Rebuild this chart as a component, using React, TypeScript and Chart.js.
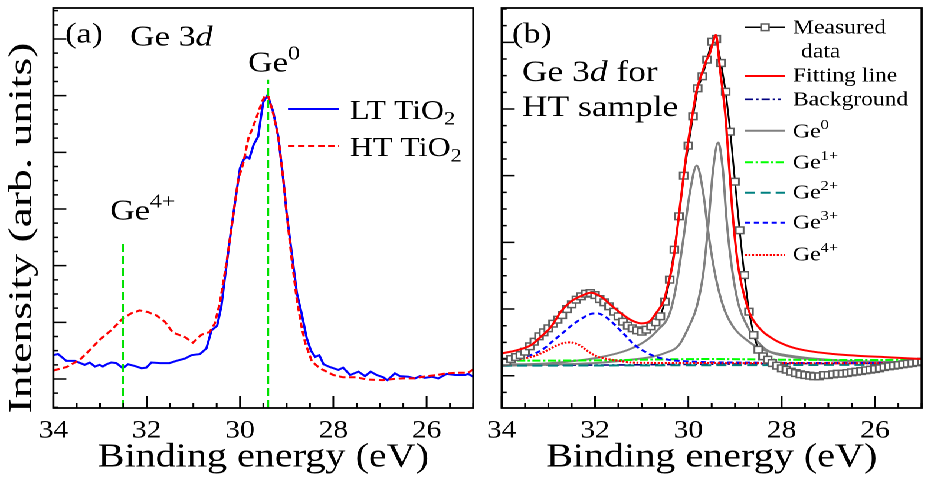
import React, { useEffect, useRef } from 'react';
import { Chart, registerables } from 'chart.js';

Chart.register(...registerables);

// ---------- global look ----------
const S = 1.18; // the figure is horizontally stretched
const FAMILY = '"Liberation Serif", "Times New Roman", serif';

// ---------- shared axis ----------
const X_MIN = 25;
const X_MAX = 34;
const X_TICKS = [34, 32, 30, 28, 26];

// ---------- panel (a) ----------
const A_Y_MIN = -0.512;
const A_Y_MAX = 6.547;
const LT_E = [34.00, 33.90, 33.72, 33.54, 33.33, 33.22, 33.11, 33.01, 32.94, 32.86, 32.76, 32.65, 32.51, 32.40, 32.26, 32.11, 32.01, 31.90, 31.71, 31.51, 31.36, 31.18, 31.04, 30.86, 30.72, 30.61, 30.49, 30.40, 30.33, 30.21, 30.11, 30.00, 29.93, 29.86, 29.80, 29.71, 29.61, 29.55, 29.50, 29.41, 29.29, 29.18, 29.07, 29.00, 28.89, 28.78, 28.68, 28.57, 28.48, 28.39, 28.30, 28.21, 28.07, 27.89, 27.79, 27.64, 27.46, 27.32, 27.20, 27.07, 26.93, 26.84, 26.68, 26.57, 26.39, 26.25, 26.14, 26.04, 25.89, 25.75, 25.57, 25.39, 25.18, 25.11, 25.00];
const LT_I = [0.42, 0.44, 0.32, 0.32, 0.25, 0.29, 0.22, 0.25, 0.22, 0.26, 0.29, 0.28, 0.19, 0.26, 0.23, 0.19, 0.20, 0.29, 0.28, 0.28, 0.32, 0.36, 0.42, 0.44, 0.54, 0.86, 0.94, 1.28, 1.75, 2.51, 3.10, 3.72, 3.86, 3.92, 3.89, 4.13, 4.28, 4.63, 4.89, 5.01, 4.72, 4.28, 3.51, 2.92, 2.22, 1.51, 1.16, 0.72, 0.50, 0.39, 0.42, 0.26, 0.21, 0.16, 0.20, 0.07, 0.13, 0.05, 0.13, 0.07, 0.03, -0.02, 0.10, 0.05, 0.04, 0.01, 0.05, 0.02, 0.04, 0.01, 0.09, 0.07, 0.07, 0.09, 0.04];
const HT_E = [34.00, 33.72, 33.43, 33.22, 33.01, 32.76, 32.51, 32.33, 32.15, 31.97, 31.79, 31.61, 31.44, 31.18, 31.01, 30.83, 30.65, 30.54, 30.43, 30.28, 30.14, 30.04, 29.93, 29.82, 29.75, 29.64, 29.53, 29.46, 29.39, 29.29, 29.18, 29.07, 29.00, 28.89, 28.78, 28.68, 28.60, 28.46, 28.29, 28.00, 27.79, 27.50, 27.28, 26.93, 26.71, 26.50, 26.29, 26.00, 25.78, 25.57, 25.36, 25.11, 25.00];
const HT_I = [0.15, 0.21, 0.34, 0.51, 0.69, 0.86, 1.07, 1.16, 1.21, 1.18, 1.12, 1.01, 0.82, 0.74, 0.64, 0.78, 0.83, 0.98, 1.35, 2.10, 2.92, 3.51, 3.81, 4.25, 4.39, 4.63, 4.89, 5.01, 4.98, 4.69, 4.28, 3.51, 2.92, 2.10, 1.39, 0.92, 0.63, 0.31, 0.19, 0.07, 0.03, 0.03, -0.01, -0.02, 0.00, 0.01, 0.01, 0.05, 0.07, 0.10, 0.11, 0.11, 0.17];
const GE0_LINE_E = 29.4;
const GE0_LINE_TOP = 5.28;
const GE4_LINE_E = 32.5;
const GE4_LINE_TOP = 2.45;

// ---------- panel (b) ----------
const B_Y_MIN = -0.4845;
const B_Y_MAX = 5.515;
const MEAS_E = [34.0, 33.9, 33.8, 33.7, 33.6, 33.5, 33.4, 33.3, 33.2, 33.1, 33.0, 32.9, 32.8, 32.7, 32.6, 32.5, 32.4, 32.3, 32.2, 32.1, 32.0, 31.9, 31.8, 31.7, 31.6, 31.5, 31.4, 31.3, 31.2, 31.1, 31.0, 30.9, 30.8, 30.7, 30.6, 30.5, 30.4, 30.3, 30.2, 30.1, 30.0, 29.9, 29.8, 29.7, 29.6, 29.5, 29.4, 29.3, 29.2, 29.1, 29.0, 28.9, 28.8, 28.7, 28.6, 28.5, 28.4, 28.3, 28.2, 28.1, 28.0, 27.9, 27.8, 27.7, 27.6, 27.5, 27.4, 27.3, 27.2, 27.1, 27.0, 26.9, 26.8, 26.7, 26.6, 26.5, 26.4, 26.3, 26.2, 26.1, 26.0, 25.9, 25.8, 25.7, 25.6, 25.5, 25.4, 25.3, 25.2, 25.1, 25.0];
const MEAS_I = [0.20, 0.21, 0.25, 0.28, 0.31, 0.36, 0.44, 0.51, 0.59, 0.65, 0.71, 0.78, 0.84, 0.91, 1.00, 1.07, 1.14, 1.19, 1.23, 1.24, 1.21, 1.15, 1.10, 1.04, 0.96, 0.89, 0.81, 0.75, 0.71, 0.68, 0.66, 0.69, 0.74, 0.80, 0.89, 1.11, 1.44, 1.89, 2.39, 3.00, 3.45, 3.89, 4.31, 4.49, 4.74, 5.01, 5.05, 4.69, 4.26, 3.66, 2.91, 2.18, 1.51, 0.96, 0.61, 0.39, 0.29, 0.24, 0.19, 0.15, 0.11, 0.09, 0.06, 0.04, 0.02, 0.01, 0.00, -0.01, -0.01, 0.01, 0.01, 0.02, 0.03, 0.03, 0.04, 0.05, 0.06, 0.07, 0.08, 0.09, 0.10, 0.11, 0.13, 0.14, 0.15, 0.16, 0.17, 0.18, 0.19, 0.20, 0.21];
const FIT_E = [34.0, 33.66, 33.37, 33.16, 32.94, 32.73, 32.52, 32.3, 32.09, 31.87, 31.66, 31.44, 31.23, 31.01, 30.84, 30.68, 30.52, 30.46, 30.33, 30.18, 30.04, 29.93, 29.82, 29.71, 29.61, 29.54, 29.48, 29.41, 29.32, 29.21, 29.12, 29.04, 28.93, 28.82, 28.68, 28.46, 28.18, 27.82, 27.46, 26.89, 26.39, 25.68, 25.0];
const FIT_I = [0.335, 0.385, 0.46, 0.585, 0.735, 0.96, 1.11, 1.195, 1.245, 1.185, 1.06, 0.935, 0.835, 0.785, 0.81, 0.95, 1.135, 1.3, 1.7, 2.535, 3.335, 3.835, 4.285, 4.535, 4.735, 4.835, 4.985, 5.11, 4.585, 3.935, 3.085, 2.335, 1.635, 1.25, 0.93, 0.7, 0.55, 0.435, 0.375, 0.325, 0.3, 0.275, 0.25];
const BG_E = [34, 32, 30, 28, 26, 25];
const BG_I = [0.16, 0.16, 0.17, 0.18, 0.185, 0.19];
const GE0A_E = [34, 33.3, 32.6, 31.9, 31.3, 30.9, 30.65, 30.4, 30.25, 30.11, 29.97, 29.82, 29.68, 29.57, 29.43, 29.25, 29.04, 28.75, 28.47, 28.11, 27.5, 27, 26, 25];
const GE0A_I = [0.17, 0.175, 0.21, 0.275, 0.385, 0.53, 0.69, 0.935, 1.385, 2.035, 2.735, 3.15, 2.735, 2.135, 1.535, 1.035, 0.735, 0.535, 0.41, 0.335, 0.27, 0.24, 0.21, 0.2];
const GE0B_E = [34, 33, 31.9, 31.16, 30.8, 30.5, 30.2, 30.0, 29.82, 29.68, 29.57, 29.47, 29.36, 29.26, 29.18, 29.07, 28.93, 28.75, 28.6, 28.32, 27.82, 27.11, 26, 25];
const GE0B_I = [0.15, 0.165, 0.195, 0.245, 0.28, 0.34, 0.46, 0.72, 1.035, 1.535, 2.285, 3.085, 3.495, 3.085, 2.335, 1.635, 1.085, 0.76, 0.585, 0.385, 0.285, 0.235, 0.21, 0.2];
const GE1_E = [34, 32, 30.5, 29.5, 28, 26, 25];
const GE1_I = [0.225, 0.23, 0.245, 0.25, 0.24, 0.235, 0.245];
const GE2_E = [34, 31, 28, 25];
const GE2_I = [0.15, 0.155, 0.16, 0.165];
const GE3_E = [34, 33.65, 33.28, 33.06, 32.92, 32.7, 32.49, 32.28, 32.1, 31.96, 31.78, 31.57, 31.36, 31.15, 30.93, 30.72, 30.43, 30.15, 29.7, 28.5, 27, 25];
const GE3_I = [0.21, 0.26, 0.335, 0.425, 0.51, 0.635, 0.76, 0.86, 0.925, 0.935, 0.885, 0.76, 0.61, 0.46, 0.36, 0.29, 0.24, 0.22, 0.205, 0.195, 0.19, 0.19];
const GE4_E = [34, 33.66, 33.3, 33.01, 32.8, 32.55, 32.34, 32.16, 31.98, 31.8, 31.51, 31.16, 30, 25];
const GE4_I = [0.225, 0.245, 0.295, 0.385, 0.46, 0.5, 0.46, 0.37, 0.295, 0.26, 0.225, 0.195, 0.19, 0.185];

// ---------- styles ----------
const C_BLUE = '#0000ff';
const C_RED = '#ff0000';
const C_GREEN_GUIDE = '#00e000';
const C_GRAY = '#808080';
const C_LIME = '#00ff00';
const C_TEAL = '#008080';
const C_NAVY = '#000080';
const C_SQUARE = '#5e5e5e';
const DASH_HT = [5.5, 3];
const DASH_GUIDE = [8, 4];
const DASH_BG = [7, 2.5, 2, 2.5];
const DASH_GE1 = [7, 2, 2, 2];
const DASH_GE2 = [8.5, 4.5];
const DASH_GE3 = [4.5, 3];
const DASH_GE4 = [1.7, 1.3];

const zip = (xs: number[], ys: number[]) => xs.map((x, i) => ({ x, y: ys[i] }));

type Part = { t: string; it?: boolean; sup?: boolean; sub?: boolean };

function drawRich(ctx: CanvasRenderingContext2D, x: number, cy: number, parts: Part[], size: number) {
  const base = cy + 0.33 * size;
  let cx = x;
  ctx.textBaseline = 'alphabetic';
  ctx.textAlign = 'left';
  ctx.fillStyle = '#000';
  for (const p of parts) {
    const fs = p.sup || p.sub ? size * 0.7 : size;
    ctx.font = `${p.it ? 'italic ' : ''}${fs}px ${FAMILY}`;
    const dy = p.sup ? -0.42 * size : p.sub ? 0.2 * size : 0;
    ctx.fillText(p.t, cx, base + dy);
    cx += ctx.measureText(p.t).width;
  }
}

function hLine(ctx: CanvasRenderingContext2D, x1: number, x2: number, y: number, color: string, dash: number[], width: number) {
  ctx.save();
  ctx.strokeStyle = color;
  ctx.lineWidth = width;
  ctx.setLineDash(dash);
  ctx.beginPath();
  ctx.moveTo(x1, y);
  ctx.lineTo(x2, y);
  ctx.stroke();
  ctx.restore();
}

function makeFramePlugin(offset: number, extras: (ctx: CanvasRenderingContext2D, X: (r: number) => number) => void) {
  return {
    id: 'frameAndNotes',
    afterDatasetsDraw(chart: any) {
      const { ctx, chartArea: ca } = chart;
      const xs = chart.scales.x;
      const ys = chart.scales.y;
      ctx.save();
      ctx.setLineDash([]);
      ctx.strokeStyle = '#000';
      ctx.lineWidth = 1.5;
      ctx.beginPath();
      for (let k = 0; k <= 18; k++) {
        const e = X_MIN + k * 0.5;
        const px = xs.getPixelForValue(e);
        const len = (k - 2) % 4 === 0 ? 12 : 5;
        ctx.moveTo(px, ca.bottom);
        ctx.lineTo(px, ca.bottom - len);
      }
      for (let j = Math.ceil(ys.min * 4); j <= Math.floor(ys.max * 4); j++) {
        const py = ys.getPixelForValue(j / 4);
        const len = j % 4 === 0 ? 11 : 4.2;
        ctx.moveTo(ca.left, py);
        ctx.lineTo(ca.left + len, py);
      }
      ctx.stroke();
      ctx.lineWidth = 1.8;
      ctx.strokeRect(ca.left, ca.top, ca.right - ca.left, ca.bottom - ca.top);
      extras(ctx, (r: number) => r / S - offset);
      ctx.restore();
    },
  };
}

function baseOptions(yMin: number, yMax: number, padLeft: number, padRight: number) {
  return {
    responsive: true,
    maintainAspectRatio: false,
    animation: false as const,
    devicePixelRatio: 2,
    events: [] as any[],
    layout: { padding: { left: padLeft, right: padRight, top: 8, bottom: 10 } },
    plugins: { legend: { display: false }, tooltip: { enabled: false } },
    scales: {
      x: {
        type: 'linear' as const,
        reverse: true,
        min: X_MIN,
        max: X_MAX,
        grid: { display: false },
        border: { display: false },
        ticks: { font: { family: FAMILY, size: 25 }, color: '#000', padding: 0, maxRotation: 0, autoSkip: false },
        afterBuildTicks: (ax: any) => { ax.ticks = X_TICKS.map((v) => ({ value: v })); },
        afterFit: (ax: any) => { ax.height = 70; },
        title: { display: true, text: 'Binding energy (eV)', font: { family: FAMILY, size: 34 }, color: '#000', padding: 0 },
      },
      y: { type: 'linear' as const, display: false, min: yMin, max: yMax },
    },
  };
}

const W_U = 930 / S;
const A_W = 413;
const B_LEFT = 405;
const B_W = W_U - B_LEFT;

export default function App() {
  const refA = useRef<HTMLCanvasElement>(null);
  const refB = useRef<HTMLCanvasElement>(null);

  useEffect(() => {
    const plA = makeFramePlugin(0, (ctx, X) => {
      // y title
      ctx.save();
      ctx.translate(X(22), 228);
      ctx.rotate(-Math.PI / 2);
      ctx.scale(1.34, 0.82);
      ctx.fillStyle = '#000';
      ctx.font = `34px ${FAMILY}`;
      ctx.textAlign = 'center';
      ctx.textBaseline = 'middle';
      ctx.fillText('Intensity (arb. units)', 0, 0);
      ctx.restore();
      drawRich(ctx, X(65), 33, [{ t: '(a)' }], 29);
      drawRich(ctx, X(130), 36, [{ t: 'Ge 3' }, { t: 'd', it: true }], 29);
      drawRich(ctx, X(248), 62, [{ t: 'Ge' }, { t: '0', sup: true }], 29);
      drawRich(ctx, X(110), 210, [{ t: 'Ge' }, { t: '4+', sup: true }], 29);
      hLine(ctx, X(288), X(339), 109, C_BLUE, [], 2);
      drawRich(ctx, X(350), 110, [{ t: 'LT TiO' }, { t: '2', sub: true }], 27);
      hLine(ctx, X(288), X(339), 146, C_RED, DASH_HT, 2);
      drawRich(ctx, X(350), 147, [{ t: 'HT TiO' }, { t: '2', sub: true }], 27);
    });

    const chartA = new Chart(refA.current as HTMLCanvasElement, {
      type: 'line',
      data: {
        datasets: [
          { label: 'Ge0 position', data: [{ x: GE0_LINE_E, y: A_Y_MIN }, { x: GE0_LINE_E, y: GE0_LINE_TOP }], borderColor: C_GREEN_GUIDE, borderDash: DASH_GUIDE, borderWidth: 2, pointRadius: 0 },
          { label: 'Ge4+ position', data: [{ x: GE4_LINE_E, y: A_Y_MIN }, { x: GE4_LINE_E, y: GE4_LINE_TOP }], borderColor: C_GREEN_GUIDE, borderDash: DASH_GUIDE, borderWidth: 2, pointRadius: 0 },
          { label: 'HT TiO2', data: zip(HT_E, HT_I), borderColor: C_RED, borderDash: DASH_HT, borderWidth: 2, pointRadius: 0 },
          { label: 'LT TiO2', data: zip(LT_E, LT_I), borderColor: C_BLUE, borderWidth: 2, pointRadius: 0 },
        ],
      },
      options: baseOptions(A_Y_MIN, A_Y_MAX, 45.2, A_W - 473.3 / S) as any,
      plugins: [plA],
    });

    const LX1 = 745, LX2 = 785, LT = 793;
    const plB = makeFramePlugin(B_LEFT, (ctx, X) => {
      drawRich(ctx, X(512), 33, [{ t: '(b)' }], 29);
      drawRich(ctx, X(522), 71, [{ t: 'Ge 3' }, { t: 'd', it: true }, { t: ' for' }], 30);
      drawRich(ctx, X(522), 106, [{ t: 'HT sample' }], 30);
      const fs = 20;
      // measured
      hLine(ctx, X(LX1), X(LX2), 27.3, '#000', [], 1.5);
      ctx.save();
      ctx.fillStyle = '#fff';
      ctx.strokeStyle = C_SQUARE;
      ctx.lineWidth = 1.5;
      const cx = X((LX1 + LX2) / 2);
      ctx.fillRect(cx - 3.3, 27.3 - 3.3, 6.6, 6.6);
      ctx.strokeRect(cx - 3.3, 27.3 - 3.3, 6.6, 6.6);
      ctx.restore();
      drawRich(ctx, X(LT), 27, [{ t: 'Measured' }], fs);
      drawRich(ctx, X(801), 51, [{ t: 'data' }], fs);
      hLine(ctx, X(LX1), X(LX2), 76, C_RED, [], 2);
      drawRich(ctx, X(LT), 75, [{ t: 'Fitting line' }], fs);
      hLine(ctx, X(LX1), X(781), 99.3, C_NAVY, DASH_BG, 1.6);
      drawRich(ctx, X(LT), 99, [{ t: 'Background' }], fs);
      hLine(ctx, X(LX1), X(LX2), 130.7, C_GRAY, [], 2);
      drawRich(ctx, X(LT), 131, [{ t: 'Ge' }, { t: '0', sup: true }], fs);
      hLine(ctx, X(LX1), X(LX2), 162.3, C_LIME, DASH_GE1, 2);
      drawRich(ctx, X(LT), 162, [{ t: 'Ge' }, { t: '1+', sup: true }], fs);
      hLine(ctx, X(LX1), X(LX2), 192.7, C_TEAL, DASH_GE2, 2);
      drawRich(ctx, X(LT), 192, [{ t: 'Ge' }, { t: '2+', sup: true }], fs);
      hLine(ctx, X(LX1), X(LX2), 222.7, C_BLUE, DASH_GE3, 2);
      drawRich(ctx, X(LT), 222, [{ t: 'Ge' }, { t: '3+', sup: true }], fs);
      hLine(ctx, X(LX1), X(LX2), 255, C_RED, DASH_GE4, 2);
      drawRich(ctx, X(LT), 254, [{ t: 'Ge' }, { t: '4+', sup: true }], fs);
    });

    const smooth = { cubicInterpolationMode: 'monotone' as const, pointRadius: 0 };
    const chartB = new Chart(refB.current as HTMLCanvasElement, {
      type: 'line',
      data: {
        datasets: [
          { label: 'Fitting line', data: zip(FIT_E, FIT_I), borderColor: C_RED, borderWidth: 2, ...smooth },
          { label: 'Measured data', data: zip(MEAS_E, MEAS_I), borderColor: '#000', borderWidth: 1.5, pointStyle: 'rect', pointRadius: 4.7, pointBorderColor: C_SQUARE, pointBackgroundColor: '#ffffff', pointBorderWidth: 1.5 },
          { label: 'Ge4+', data: zip(GE4_E, GE4_I), borderColor: C_RED, borderDash: DASH_GE4, borderWidth: 2, ...smooth },
          { label: 'Ge3+', data: zip(GE3_E, GE3_I), borderColor: C_BLUE, borderDash: DASH_GE3, borderWidth: 2, ...smooth },
          { label: 'Ge2+', data: zip(GE2_E, GE2_I), borderColor: C_TEAL, borderDash: DASH_GE2, borderWidth: 2, ...smooth },
          { label: 'Ge1+', data: zip(GE1_E, GE1_I), borderColor: C_LIME, borderDash: DASH_GE1, borderWidth: 2, ...smooth },
          { label: 'Ge0 (3d3/2)', data: zip(GE0A_E, GE0A_I), borderColor: C_GRAY, borderWidth: 2, ...smooth },
          { label: 'Ge0 (3d5/2)', data: zip(GE0B_E, GE0B_I), borderColor: C_GRAY, borderWidth: 2, ...smooth },
          { label: 'Background', data: zip(BG_E, BG_I), borderColor: C_NAVY, borderDash: DASH_BG, borderWidth: 1.6, ...smooth },
        ],
      },
      options: baseOptions(B_Y_MIN, B_Y_MAX, 501.7 / S - B_LEFT, B_W - (921.7 / S - B_LEFT)) as any,
      plugins: [plB],
    });

    return () => {
      chartA.destroy();
      chartB.destroy();
    };
  }, []);

  return (
    <div style={{ position: 'fixed', left: 0, top: 0, width: 930, height: 488, overflow: 'hidden', background: '#fff' }}>
      <div style={{ position: 'absolute', left: 0, top: 0, width: W_U, height: 488, transform: `scaleX(${S})`, transformOrigin: '0 0' }}>
        <div style={{ position: 'absolute', left: 0, top: 0, width: A_W, height: 488 }}>
          <canvas ref={refA} />
        </div>
        <div style={{ position: 'absolute', left: B_LEFT, top: 0, width: B_W, height: 488 }}>
          <canvas ref={refB} />
        </div>
      </div>
    </div>
  );
}
